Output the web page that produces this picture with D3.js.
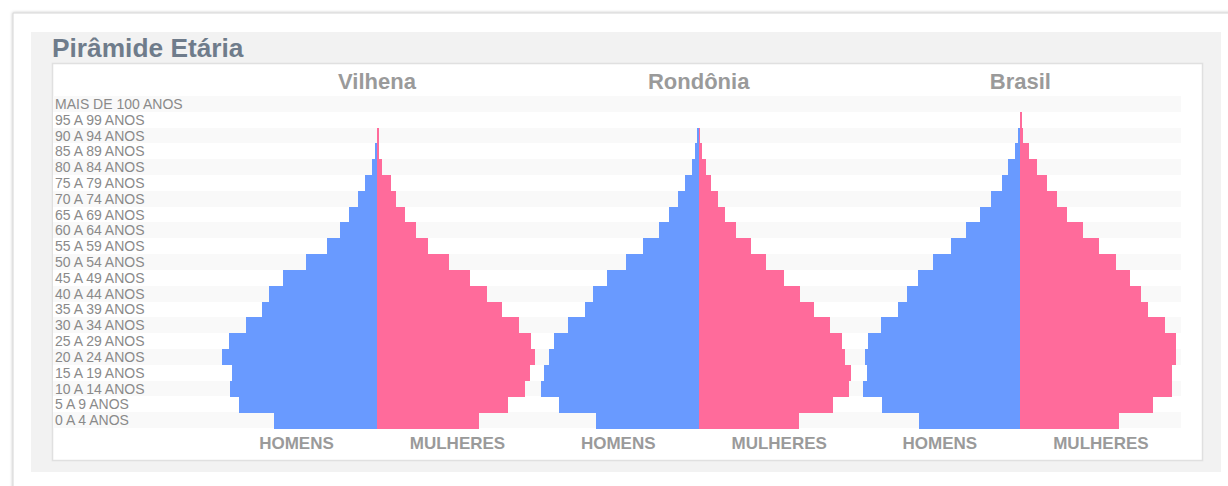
<!DOCTYPE html>
<html>
<head>
<meta charset="utf-8">
<script src="https://cdn.jsdelivr.net/npm/d3@7"></script>
<style>
  html, body { margin: 0; padding: 0; background: #fff; }
  svg { display: block; font-family: "Liberation Sans", Arial, sans-serif; }
</style>
</head>
<body>
<svg id="chart" width="1228" height="486"></svg>
<script>
// ---- DATA ----
const title = "Pirâmide Etária";
const regions = ["Vilhena", "Rondônia", "Brasil"];
const ageGroups = [
  "MAIS DE 100 ANOS", "95 A 99 ANOS", "90 A 94 ANOS", "85 A 89 ANOS", "80 A 84 ANOS",
  "75 A 79 ANOS", "70 A 74 ANOS", "65 A 69 ANOS", "60 A 64 ANOS", "55 A 59 ANOS",
  "50 A 54 ANOS", "45 A 49 ANOS", "40 A 44 ANOS", "35 A 39 ANOS", "30 A 34 ANOS",
  "25 A 29 ANOS", "20 A 24 ANOS", "15 A 19 ANOS", "10 A 14 ANOS", "5 A 9 ANOS", "0 A 4 ANOS"
];
const sexLabels = ["HOMENS", "MULHERES"];
// percentage of population, top row first
const vilhenaHomens   = [0, 0, 0.01, 0.05, 0.15, 0.34, 0.56, 0.82, 1.08, 1.48, 2.10, 2.76, 3.17, 3.38, 3.84, 4.36, 4.56, 4.26, 4.31, 4.05, 3.02];
const vilhenaMulheres = [0, 0, 0.05, 0.06, 0.15, 0.41, 0.57, 0.83, 1.15, 1.51, 2.12, 2.73, 3.24, 3.67, 4.19, 4.53, 4.64, 4.49, 4.34, 3.85, 2.99];
const rondoniaHomens   = [0, 0, 0.06, 0.11, 0.20, 0.40, 0.61, 0.86, 1.18, 1.64, 2.14, 2.71, 3.12, 3.34, 3.84, 4.26, 4.41, 4.56, 4.63, 4.10, 3.02];
const rondoniaMulheres = [0, 0, 0.04, 0.11, 0.21, 0.35, 0.56, 0.76, 1.09, 1.54, 1.99, 2.52, 2.98, 3.39, 3.85, 4.21, 4.31, 4.48, 4.42, 3.95, 2.94];
const brasilHomens   = [0, 0.01, 0.06, 0.16, 0.36, 0.55, 0.86, 1.19, 1.60, 2.05, 2.57, 3.02, 3.33, 3.59, 4.10, 4.47, 4.57, 4.51, 4.63, 4.06, 2.97];
const brasilMulheres = [0, 0.06, 0.09, 0.24, 0.50, 0.77, 1.07, 1.38, 1.85, 2.31, 2.81, 3.23, 3.55, 3.74, 4.26, 4.58, 4.58, 4.47, 4.47, 3.89, 2.89];

const seriesByRegion = {
  "Vilhena":  { m: vilhenaHomens,  f: vilhenaMulheres },
  "Rondônia": { m: rondoniaHomens, f: rondoniaMulheres },
  "Brasil":   { m: brasilHomens,   f: brasilMulheres }
};

// ---- STYLE ----
const colMale = "#699aff";
const colFemale = "#ff6b9b";
const textGray = "#9a9a9a";

const svg = d3.select("#chart");

// drop shadow for outer card
const defs = svg.append("defs");
const f = defs.append("filter").attr("id", "shadow").attr("x", "-5%").attr("y", "-5%").attr("width", "110%").attr("height", "110%");
f.append("feDropShadow").attr("dx", 0).attr("dy", 0).attr("stdDeviation", 1.5).attr("flood-color", "#000").attr("flood-opacity", 0.25);

// outer card
svg.append("rect").attr("x", 13).attr("y", 13).attr("width", 1240).attr("height", 500)
  .attr("fill", "#fff").attr("stroke", "#d6d6d6").attr("stroke-width", 1).attr("filter", "url(#shadow)");

// gray panel
svg.append("rect").attr("x", 31).attr("y", 32).attr("width", 1190).attr("height", 440).attr("fill", "#f2f2f2");

// title
svg.append("text").attr("x", 52).attr("y", 57).text(title)
  .attr("font-size", 26.3).attr("font-weight", "bold").attr("fill", "#6f7c8b");

// inner white box
svg.append("rect").attr("x", 52.5).attr("y", 63.5).attr("width", 1150).attr("height", 397)
  .attr("fill", "#fff").attr("stroke", "#e0e0e0").attr("stroke-width", 1.5);

// scales
const y = d3.scaleBand().domain(ageGroups).range([96, 428]).padding(0);
const cx = d3.scalePoint().domain(regions).range([377, 1020.4]);
const x = d3.scaleLinear().domain([0, 5]).range([0, 170]);

// stripes
svg.append("g").attr("shape-rendering", "crispEdges").selectAll("rect").data(ageGroups).join("rect")
  .attr("x", 53).attr("width", 1128)
  .attr("y", d => y(d)).attr("height", y.bandwidth())
  .attr("fill", (d, i) => i % 2 === 0 ? "#f9f9f9" : "#ffffff");

// row labels
svg.append("g").selectAll("text").data(ageGroups).join("text")
  .attr("x", 55).attr("y", d => y(d) + y.bandwidth() / 2)
  .attr("dy", "0.36em")
  .attr("font-size", 14).attr("fill", "#8a8a8a")
  .text(d => d);

// pyramids
regions.forEach(r => {
  const c = cx(r);
  const g = svg.append("g");
  const s = seriesByRegion[r];
  const bars = g.append("g").attr("shape-rendering", "crispEdges");
  bars.selectAll("rect.m").data(ageGroups).join("rect").attr("class", "m")
    .attr("x", (d, i) => c - x(s.m[i])).attr("width", (d, i) => x(s.m[i]))
    .attr("y", d => y(d)).attr("height", y.bandwidth() + 0.5).attr("fill", colMale);
  bars.selectAll("rect.f").data(ageGroups).join("rect").attr("class", "f")
    .attr("x", c).attr("width", (d, i) => x(s.f[i]))
    .attr("y", d => y(d)).attr("height", y.bandwidth() + 0.5).attr("fill", colFemale);
  // region title
  g.append("text").attr("x", c).attr("y", 89).attr("text-anchor", "middle")
    .attr("font-size", 22).attr("font-weight", "bold").attr("fill", textGray).text(r);
  // sex labels
  g.append("text").attr("x", c - 80.5).attr("y", 449).attr("text-anchor", "middle")
    .attr("font-size", 17).attr("font-weight", "bold").attr("fill", textGray).text(sexLabels[0]);
  g.append("text").attr("x", c + 80.5).attr("y", 449).attr("text-anchor", "middle")
    .attr("font-size", 17).attr("font-weight", "bold").attr("fill", textGray).text(sexLabels[1]);
});
</script>
</body>
</html>
